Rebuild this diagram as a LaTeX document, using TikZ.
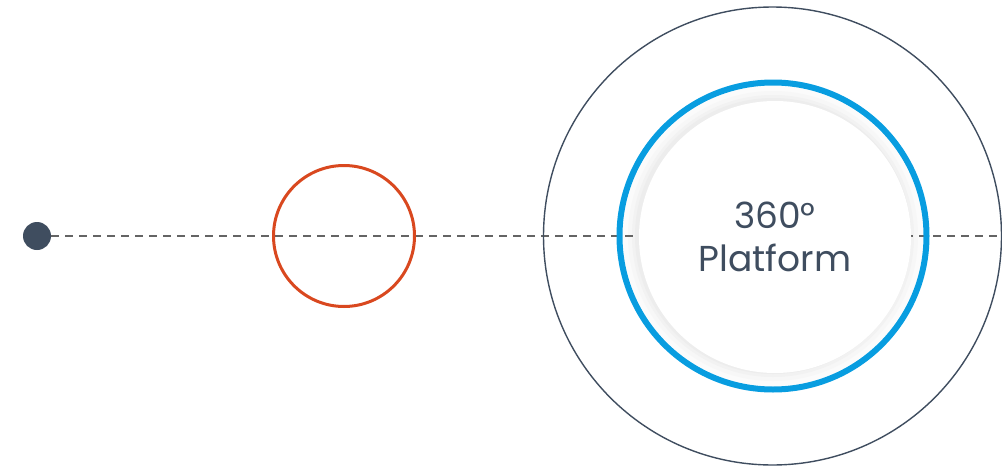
\documentclass[tikz,border=0pt]{standalone}
\usepackage{fontspec}
\setmainfont{Poppins}
\usetikzlibrary{positioning,calc}
\definecolor{ardoiseC}{RGB}{63,77,95}
\definecolor{orangeC}{RGB}{217,72,31}
\definecolor{bleuC}{RGB}{8,157,224}
\definecolor{traitC}{RGB}{100,100,100}
\tikzset{
  pastille/.style={circle, fill=ardoiseC, minimum size=28pt, inner sep=0pt},
  anneau/.style={circle, draw=#1, line width=3pt, inner sep=0pt},
  disque/.style={circle, fill=white, minimum size=272pt, inner sep=0pt, align=center,
                 text=ardoiseC, font=\fontsize{36}{43}\selectfont},
  tiret/.style={dash pattern=on 8pt off 6pt, line width=1.8pt, draw=traitC},
}
\begin{document}
\begin{tikzpicture}[x=1pt, y=-1pt]
        \useasboundingbox (0,0) rectangle (1002,469);
        \coordinate (centre) at (773,236);
        \coordinate (fin) at (1002,236);
        \fill[gray!3] (centre) circle (150);
        \fill[gray!6] (centre) circle (145);
        \fill[gray!10] (centre) circle (141);
        \fill[gray!14] (centre) circle (138);
        \node[pastille] (depart) at (37,236) {};
        \draw[tiret] (depart) -- (fin);
        \node[anneau=orangeC, minimum size=141pt] (etape) at (344,236) {};
        \node[disque] (plateforme) at (775,237) {360°\\Platform};
        \node[anneau=bleuC, line width=6pt, minimum size=307pt] (cercle) at (centre) {};
        \node[anneau=ardoiseC, line width=1.4pt, minimum size=458pt] (orbite) at (772.5,236) {};
      \end{tikzpicture}
\end{document}
